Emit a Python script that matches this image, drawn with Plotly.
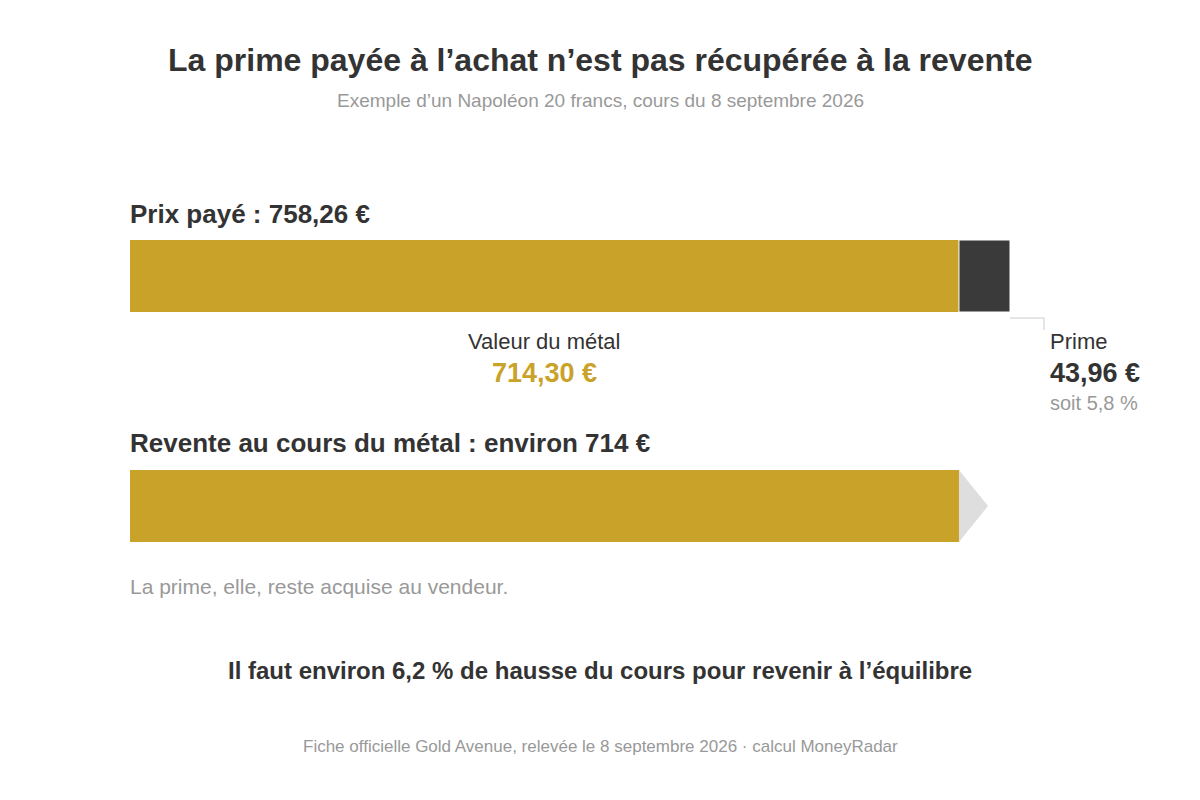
import plotly.graph_objects as go

# --- data ---
prix_paye = 758.26
valeur_metal = 714.30
prime = 43.96
prime_pct = 5.8
hausse_pct = 6.2
revente = 714

GOLD = "#C9A22A"
DARK = "#3A3A3A"
TXT = "#333333"
GREY = "#999999"
FONT = "Liberation Sans"

OFF = 8  # page body margin
W, H = 1200, 800
X0_PX, X1_PX = 130 - OFF, 1010 - OFF
k = (X1_PX - X0_PX) / prix_paye  # px per euro
xmin = -X0_PX / k
xmax = (W - X0_PX) / k

fig = go.Figure()

# Bar 1: metal + prime
fig.add_trace(go.Bar(x=[valeur_metal], y=[276], base=[0], orientation="h", width=72,
                     marker=dict(color=GOLD, line=dict(width=0)), hoverinfo="skip"))
fig.add_trace(go.Bar(x=[prime], y=[276], base=[valeur_metal], orientation="h", width=72,
                     marker=dict(color=DARK, line=dict(color="white", width=1)), hoverinfo="skip"))
# Bar 2: resale
fig.add_trace(go.Bar(x=[valeur_metal], y=[506], base=[0], orientation="h", width=72,
                     marker=dict(color=GOLD, line=dict(width=0)), hoverinfo="skip"))
# arrow
tip = 29 / k
fig.add_trace(go.Scatter(x=[valeur_metal, valeur_metal + tip, valeur_metal, valeur_metal],
                         y=[470, 506, 542, 470], fill="toself", fillcolor="#DEDEDE",
                         line=dict(width=0, color="#DEDEDE"), mode="lines", hoverinfo="skip"))
# connector from prime
fig.add_trace(go.Scatter(x=[prix_paye, prix_paye + 34 / k, prix_paye + 34 / k],
                         y=[318, 318, 330], mode="lines",
                         line=dict(color="#DDDDDD", width=1.5), hoverinfo="skip"))

def fr(v, d=2):
    return f"{v:.{d}f}".replace(".", ",")

def ann(text, xpx, ypx, size, color=TXT, bold=False, xanchor="left"):
    t = f"<b>{text}</b>" if bold else text
    fig.add_annotation(x=(xpx - OFF) / W, y=1 - (ypx - OFF) / H, xref="paper", yref="paper", text=t,
                       showarrow=False, xanchor=xanchor, yanchor="middle",
                       xshift=-2 if xanchor == "left" else 0,
                       font=dict(family=FONT, size=size, color=color))

cx = 130 + valeur_metal * k / 2
ann("La prime payée à l’achat n’est pas récupérée à la revente", 600, 60, 32, bold=True, xanchor="center")
ann("Exemple d’un Napoléon 20 francs, cours du 8 septembre 2026", 600, 100, 19, color=GREY, xanchor="center")
ann(f"Prix payé : {fr(prix_paye)} €", 130, 214, 26, bold=True)
ann("Valeur du métal", cx, 341, 22, xanchor="center")
ann(f"{fr(valeur_metal)} €", cx, 373, 27, color=GOLD, bold=True, xanchor="center")
ann("Prime", 1050, 341, 22)
ann(f"{fr(prime)} €", 1050, 373, 27, bold=True)
ann(f"soit {fr(prime_pct, 1)} %", 1050, 403, 20, color=GREY)
ann(f"Revente au cours du métal : environ {revente} €", 130, 443, 26, bold=True)
ann("La prime, elle, reste acquise au vendeur.", 130, 586, 21, color=GREY)
ann(f"Il faut environ {fr(hausse_pct, 1)} % de hausse du cours pour revenir à l’équilibre", 600, 670, 24, bold=True, xanchor="center")
ann("Fiche officielle Gold Avenue, relevée le 8 septembre 2026 · calcul MoneyRadar", 600, 746, 17, color=GREY, xanchor="center")

fig.update_layout(
    width=W, height=H, margin=dict(l=0, r=0, t=0, b=0),
    paper_bgcolor="white", plot_bgcolor="white", showlegend=False,
    barmode="overlay",
    xaxis=dict(range=[xmin, xmax], visible=False, fixedrange=True),
    yaxis=dict(range=[H + OFF, OFF], visible=False, fixedrange=True),
)
fig.write_html("out.html", config={"displayModeBar": False})
